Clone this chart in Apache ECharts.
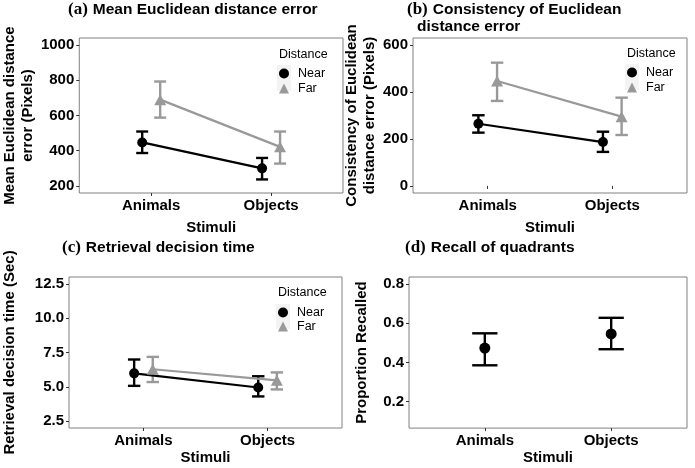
<!DOCTYPE html>
<html><head><meta charset="utf-8">
<script src="https://cdn.jsdelivr.net/npm/echarts@6/dist/echarts.min.js"></script>
<style>html,body{margin:0;padding:0;background:#fff}#c{width:695px;height:468px}</style>
</head><body><div id="c"></div>
<script>
// ---- data ----
const categories = ['Animals', 'Objects'];
const groups = ['Near', 'Far'];

// (a) Mean Euclidean distance error (Pixels)
const meanNear = [447, 300], meanNearLo = [387, 237], meanNearHi = [509, 359];
const meanFar = [690, 422], meanFarLo = [588, 327], meanFarHi = [793, 509];
// (b) Consistency of Euclidean distance error (Pixels)
const consNear = [265, 187], consNearLo = [227, 145], consNearHi = [301, 231];
const consFar = [447, 295], consFarLo = [362, 217], consFarHi = [525, 376];
// (c) Retrieval decision time (Sec)
const rtNear = [5.98, 4.95], rtNearLo = [5.07, 4.30], rtNearHi = [6.99, 5.77];
const rtFar = [6.28, 5.47], rtFarLo = [5.35, 4.81], rtFarHi = [7.18, 6.05];
// (d) Recall of quadrants
const recall = [0.473, 0.545], recallLo = [0.385, 0.467], recallHi = [0.548, 0.627];

// tick labels
const yTicksA = [200, 400, 600, 800, 1000];
const yTicksB = [0, 200, 400, 600];
const yTicksC = [2.5, 5.0, 7.5, 10.0, 12.5];
const yTicksD = [0.2, 0.4, 0.6, 0.8];
const xTicks = [1, 2];

// ---- styling ----
const SANS = 'Liberation Sans';
const SERIF = 'Liberation Serif';
const BLACK = '#000000';
const GREY = '#999999';
const DODGE = 0.075;

function pts(vals, off) { return vals.map((v, i) => [i + 1 + off, v]); }
function bars(lo, hi, off, hw) { return lo.map((l, i) => [i + 1 + off, l, hi[i], hw]); }

function errRender(color) {
  return function (params, api) {
    const x = api.value(0), lo = api.value(1), hi = api.value(2), hw = api.value(3);
    const pLo = api.coord([x, lo]), pHi = api.coord([x, hi]);
    const pL = api.coord([x - hw, lo]), pR = api.coord([x + hw, lo]);
    const w = pR[0] - pL[0];
    const style = { stroke: color, lineWidth: 2.4, fill: null };
    return {
      type: 'group', children: [
        { type: 'line', shape: { x1: pLo[0], y1: pLo[1], x2: pHi[0], y2: pHi[1] }, style },
        { type: 'line', shape: { x1: pLo[0] - w / 2, y1: pLo[1], x2: pLo[0] + w / 2, y2: pLo[1] }, style },
        { type: 'line', shape: { x1: pHi[0] - w / 2, y1: pHi[1], x2: pHi[0] + w / 2, y2: pHi[1] }, style }
      ]
    };
  };
}

const grids = [
  { left: 73, top: 38, width: 270, height: 155 },
  { left: 413, top: 38, width: 274, height: 155 },
  { left: 69, top: 277, width: 273, height: 155 },
  { left: 409, top: 277, width: 278, height: 155 }
].map(g => Object.assign(g, { show: true, borderColor: '#808080', borderWidth: 1, backgroundColor: 'transparent', containLabel: false }));

const labelStyle = { fontFamily: SANS, fontWeight: 'bold', fontSize: 15, color: BLACK };
const nameStyle = { fontFamily: SANS, fontWeight: 'bold', fontSize: 15, color: BLACK, lineHeight: 18 };

function xAxis(gi, nameGap) {
  return {
    type: 'value', gridIndex: gi, min: 0.4, max: 2.6,
    axisLine: { show: false },
    splitLine: { show: false },
    axisTick: { show: true, customValues: xTicks, length: 3, lineStyle: { color: '#333', width: 1 } },
    axisLabel: Object.assign({ customValues: xTicks, margin: 5, formatter: v => categories[Math.round(v) - 1] || '' }, labelStyle),
    name: 'Stimuli', nameLocation: 'middle', nameGap: nameGap, nameTextStyle: nameStyle
  };
}
function yAxis(gi, min, max, ticks, fmt, name, nameGap) {
  return {
    type: 'value', gridIndex: gi, min: min, max: max,
    axisLine: { show: false },
    splitLine: { show: false },
    axisTick: { show: true, customValues: ticks, length: 3, lineStyle: { color: '#333', width: 1 } },
    axisLabel: Object.assign({ customValues: ticks, margin: 5, formatter: fmt }, labelStyle),
    name: name, nameLocation: 'middle', nameRotate: 90, nameGap: nameGap, nameTextStyle: nameStyle
  };
}

function lineSeries(name, gi, data, color, symbol, size) {
  return {
    type: 'line', name: name, xAxisIndex: gi, yAxisIndex: gi, data: data,
    symbol: symbol, symbolSize: size, showSymbol: true,
    lineStyle: { color: color, width: 2.2 }, itemStyle: { color: color, opacity: 1 },
    z: 3, silent: true
  };
}
function errSeries(gi, data, color) {
  return {
    type: 'custom', name: 'err', xAxisIndex: gi, yAxisIndex: gi, data: data,
    renderItem: errRender(color), encode: { x: 0, y: [1, 2] }, z: 2, silent: true
  };
}

const titleRich = {
  s: { fontFamily: SERIF, fontSize: 17, color: BLACK, lineHeight: 18 },
  b: { fontFamily: SANS, fontWeight: 'bold', fontSize: 15.5, color: BLACK, lineHeight: 18 }
};
function title(text, left, top) {
  return { text: text, left: left, top: top, padding: 0, textStyle: { rich: titleRich } };
}
function legendTitle(left, top) {
  return { text: 'Distance', left: left, top: top, padding: 0, textStyle: { fontFamily: SANS, fontWeight: 'normal', fontSize: 12.5, color: BLACK } };
}
function legend(left, top, gap) {
  return {
    data: [{ name: groups[0], icon: 'circle' }, { name: groups[1], icon: 'triangle' }],
    orient: 'vertical', left: left, top: top, padding: 0,
    itemWidth: 10, itemHeight: 10, itemGap: gap, selectedMode: false,
    textStyle: { fontFamily: SANS, fontSize: 12.5, color: BLACK, lineHeight: 10, padding: [0, 0, 0, 4] }
  };
}

const f0 = v => String(v);
const f1 = v => v.toFixed(1);

const option = {
  animation: false,
  backgroundColor: '#ffffff',
  title: [
    title('{s|(a)} {b|Mean Euclidean distance error}', 68, 1),
    title('{s|(b)} {b|Consistency of Euclidean}', 407, 1),
    title('{b|distance error}', 417, 18),
    title('{s|(c)} {b|Retrieval decision time}', 62, 239),
    title('{s|(d)} {b|Recall of quadrants}', 405, 239),
    legendTitle(279, 48),
    legendTitle(627, 47),
    legendTitle(278, 286)
  ],
  legend: [legend(279, 67, 2), legend(627, 66, 2), legend(278, 306, 1)],
  graphic: [
    { type: 'rect', shape: { x: 277, y: 65, width: 14, height: 26 }, style: { fill: '#f3f3f3' }, z: -1 },
    { type: 'rect', shape: { x: 625, y: 64, width: 14, height: 26 }, style: { fill: '#f3f3f3' }, z: -1 },
    { type: 'rect', shape: { x: 276, y: 304, width: 14, height: 25 }, style: { fill: '#f3f3f3' }, z: -1 }
  ],
  grid: grids,
  xAxis: [xAxis(0, 26), xAxis(1, 26), xAxis(2, 21), xAxis(3, 19)],
  yAxis: [
    yAxis(0, 160, 1040, yTicksA, f0, 'Mean Euclidean distance\nerror (Pixels)', 35),
    yAxis(1, -30, 630, yTicksB, f0, 'Consistency of Euclidean\ndistance error (Pixels)', 24),
    yAxis(2, 2.0, 13.0, yTicksC, f1, 'Retrieval decision time (Sec)', 50),
    yAxis(3, 0.065, 0.835, yTicksD, f1, 'Proportion Recalled', 38)
  ],
  series: [
    // (a)
    errSeries(0, bars(meanFarLo, meanFarHi, DODGE, 0.05), GREY),
    lineSeries('Far', 0, pts(meanFar, DODGE), GREY, 'triangle', [12, 11]),
    errSeries(0, bars(meanNearLo, meanNearHi, -DODGE, 0.05), BLACK),
    lineSeries('Near', 0, pts(meanNear, -DODGE), BLACK, 'circle', 10),
    // (b)
    errSeries(1, bars(consFarLo, consFarHi, DODGE, 0.05), GREY),
    lineSeries('Far', 1, pts(consFar, DODGE), GREY, 'triangle', [12, 11]),
    errSeries(1, bars(consNearLo, consNearHi, -DODGE, 0.05), BLACK),
    lineSeries('Near', 1, pts(consNear, -DODGE), BLACK, 'circle', 10),
    // (c)
    errSeries(2, bars(rtFarLo, rtFarHi, DODGE, 0.05), GREY),
    lineSeries('Far', 2, pts(rtFar, DODGE), GREY, 'triangle', [12, 11]),
    errSeries(2, bars(rtNearLo, rtNearHi, -DODGE, 0.05), BLACK),
    lineSeries('Near', 2, pts(rtNear, -DODGE), BLACK, 'circle', 10),
    // (d)
    errSeries(3, bars(recallLo, recallHi, 0, 0.1), BLACK),
    {
      type: 'scatter', name: 'Recall', xAxisIndex: 3, yAxisIndex: 3, data: pts(recall, 0),
      symbol: 'circle', symbolSize: 11, itemStyle: { color: BLACK, opacity: 1 }, z: 3, silent: true
    }
  ]
};

const chart = echarts.init(document.getElementById('c'), null, { renderer: 'canvas' });
chart.setOption(option);
</script>
</body></html>
